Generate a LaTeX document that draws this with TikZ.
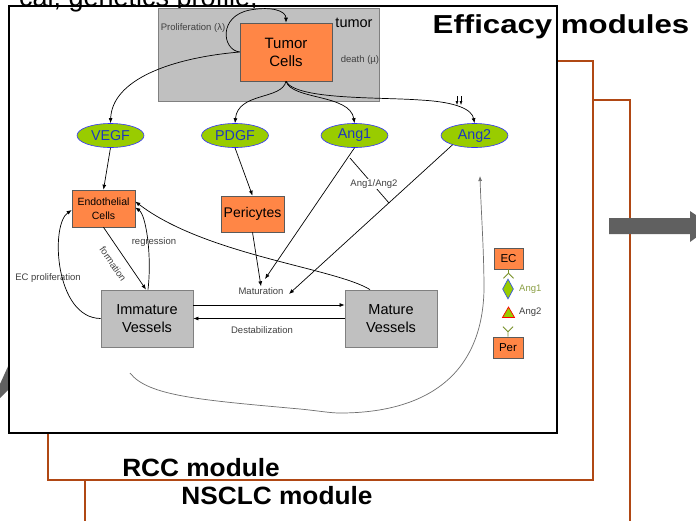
\documentclass[tikz,border=0pt]{standalone}
\usepackage{fontspec}
\setmainfont{Liberation Sans}
\usetikzlibrary{arrows.meta,shapes.geometric}
\definecolor{orng}{RGB}{255,134,70}
\definecolor{grybox}{RGB}{192,192,192}
\definecolor{brn}{RGB}{176,72,20}
\definecolor{grn}{RGB}{153,204,0}
\definecolor{blu}{RGB}{51,51,255}
\definecolor{btxt}{RGB}{30,55,190}
\definecolor{lbl}{RGB}{64,64,64}
\definecolor{olv}{RGB}{120,145,40}
\definecolor{olvtxt}{RGB}{140,160,70}
\definecolor{darr}{RGB}{96,96,96}
\definecolor{bordg}{RGB}{90,90,90}
\definecolor{curveg}{RGB}{110,110,110}
\begin{document}
\begin{tikzpicture}[x=1pt,y=-1pt,
  arr/.style={-{Latex[length=5pt,width=4pt]}, line width=0.7pt},
  obox/.style={draw=bordg, fill=orng, line width=0.6pt, inner sep=0pt, align=center},
  gbox/.style={draw=gray, fill=grybox, line width=0.8pt, inner sep=0pt, align=center, font=\fontsize{14.5}{18}\selectfont},
  ell/.style={ellipse, draw=blu, fill=grn, line width=0.6pt, minimum width=67pt, minimum height=24pt, inner sep=0pt, text=btxt, font=\fontsize{14.3}{16}\selectfont},
  lab/.style={text=lbl, font=\fontsize{9.5}{11}\selectfont, inner sep=1pt},
  modlab/.style={font=\bfseries\fontsize{25}{28}\selectfont, inner sep=0pt},
  brnframe/.style={draw=brn, line width=2pt, fill=white}
]
\useasboundingbox (0,0) rectangle (696,520);
\clip (0,0) rectangle (696,520);

% module frames
\draw[brnframe] (85,100) rectangle (630,540);
\draw[brnframe] (48,61) rectangle (593,480);
\node[modlab, anchor=base, xscale=1.05] (rcc) at (201,476) {RCC module};
\node[modlab, anchor=base, xscale=1.05] (nsclc) at (277,504) {NSCLC module};

% grey arrows
\fill[darr] (609,218) -- (690,218) -- (690,211) -- (712,226) -- (690,242) -- (690,234) -- (609,234) -- cycle;
\fill[darr] (0,384) -- (10,362) -- (10,388) -- (0,398) -- cycle;

% efficacy frame
\draw[line width=2.4pt, fill=white] (9,6) rectangle (557,433);
\node[anchor=base east, font=\fontsize{27}{30}\selectfont, inner sep=0pt] (toptxt) at (258,6) {cal, genetics profile,};
\node[font=\bfseries\fontsize{26}{28}\selectfont, inner sep=0pt, anchor=base, xscale=1.2] (title) at (561,33) {Efficacy modules};

% tumor compartment
\node[draw=gray, fill=grybox, line width=0.8pt, minimum width=221pt, minimum height=93pt, inner sep=0pt] (tumbg) at (268.5,54.5) {};
\node[font=\fontsize{14.5}{16}\selectfont, inner sep=0pt] (tumlab) at (354,23) {tumor};
\node[obox, minimum width=92pt, minimum height=58pt, font=\fontsize{15}{18}\selectfont] (tc) at (286,52) {Tumor\\Cells};
\node[lab] (prolif) at (193,28) {Proliferation (λ)};
\node[lab] (death) at (360,60) {death (µ)};

% signals
\node[ell] (vegf) at (110.5,135.5) {VEGF};
\node[ell] (pdgf) at (235,135.5) {PDGF};
\node[ell] (ang1) at (354.5,135.5) {Ang1};
\node[ell] (ang2) at (474.5,135.5) {Ang2};

% cells and vessels
\node[obox, minimum width=63pt, minimum height=37pt, font=\fontsize{10.5}{14}\selectfont] (ec) at (103.5,208.5) {Endothelial\\Cells};
\node[obox, minimum width=63pt, minimum height=36pt, font=\fontsize{14}{16}\selectfont] (per) at (252.5,214) {Pericytes};
\node[gbox, minimum width=92pt, minimum height=57pt] (imm) at (147,318.5) {Immature\\Vessels};
\node[gbox, minimum width=92pt, minimum height=57pt] (mat) at (391,318.5) {Mature\\Vessels};

\node[lab] (mlab) at (261,291) {Maturation};
\node[lab] (dlab) at (262,330) {Destabilization};
\node[lab] (reglab) at (154,242) {regression};
\node[lab, rotate=-56, inner sep=0pt] (formlab) at (113,264) {formation};
\node[lab] (eclab) at (48,278) {EC proliferation};

\coordinate (m1) at (265,279);
\coordinate (m2) at (289,294);
\coordinate (a1a2s) at (350,158);
\coordinate (a1a2e) at (389,203);
\coordinate (bc1) at (130,373);
\coordinate (bc2) at (480,176);

% tumor connectors
\draw[arr] (tc.west) .. controls (222,50) and (218,16) .. (250,10) .. controls (272,6) and (286,11) .. (tc.north);
\draw[arr] (tc.west) .. controls (170,58) and (112,80) .. (vegf.north);
\draw[arr] (tc.south) .. controls (282,100) and (238,92) .. (pdgf.north);
\draw[arr] (tc.south) .. controls (292,100) and (350,94) .. (ang1.north);
\draw[arr] (tc.south) .. controls (296,100) and (380,97) .. (420,100) .. controls (458,102) and (472,110) .. (ang2.north);
\draw[-{Latex[length=4pt,width=3pt]}, line width=0.5pt] (457,96) -- (457,105);
\draw[-{Latex[length=4pt,width=3pt]}, line width=0.5pt] (461,96) -- (461,105);

% signal connectors
\draw[arr] (vegf.south) -- (ec.north);
\draw[arr] (pdgf.south) -- (per.north);
\draw[arr] (per.south) -- (mlab.north);
\draw[arr] (ang1.south) -- (m1);
\draw[arr] (ang2.-157) -- (m2);
\draw[line width=0.7pt] (a1a2s) -- (a1a2e);
\node[lab, fill=white] (a1a2lab) at (374,184) {Ang1/Ang2};

% vessel connectors
\draw[arr] ([yshift=13.5pt]imm.east) -- ([yshift=13.5pt]mat.west);
\draw[arr] (mat.west) -- (imm.east);
\draw[arr] (ec.south) -- ([xshift=-1pt]imm.north);
\draw[arr] ([xshift=1pt]imm.north) .. controls (152,255) and (146,215) .. ([yshift=1pt]ec.east);
\draw[arr] ([xshift=-21pt]mat.north) .. controls (335,268) and (205,255) .. ([yshift=7pt]ec.east);
\draw[arr] (imm.west) .. controls (55,318) and (50,225) .. ([yshift=-1.5pt]ec.west);

% big feedback curve
\draw[curveg, line width=0.7pt, -{Latex[length=5pt,width=4pt]}] (bc1) .. controls (148,396) and (200,400) .. (300,409) .. controls (320,411) and (330,413) .. (340,413) .. controls (420,413) and (482,380) .. (484,290) .. controls (484,250) and (481,210) .. (bc2);

% legend
\node[obox, minimum width=29pt, minimum height=21pt, font=\fontsize{11.5}{13}\selectfont] (lec) at (508.5,258.5) {EC};
\node[obox, minimum width=30pt, minimum height=21pt, font=\fontsize{11.5}{13}\selectfont] (lper) at (508,347.5) {Per};
\draw[olv, line width=0.8pt] (lec.south) -- ++(0,4) coordinate (r1) -- ++(-5,5);
\draw[olv, line width=0.8pt] (r1) -- ++(5,5);
\draw[olv, line width=0.8pt] (lper.north) -- ++(0,-5) coordinate (r2) -- ++(-5,-5);
\draw[olv, line width=0.8pt] (r2) -- ++(5,-5);
\node[diamond, draw={rgb,255:red,60;green,90;blue,220}, fill=grn, line width=0.7pt, minimum width=11pt, minimum height=20pt, inner sep=0pt] (ldia) at (508,289) {};
\node[regular polygon, regular polygon sides=3, draw=red, fill=grn, line width=0.7pt, minimum size=14pt, inner sep=0pt] (ltri) at (508.5,314) {};
\node[lab, text=olvtxt, anchor=west] (la1) at (518,289) {Ang1};
\node[lab, anchor=west] (la2) at (518,312) {Ang2};
\end{tikzpicture}
\end{document}
